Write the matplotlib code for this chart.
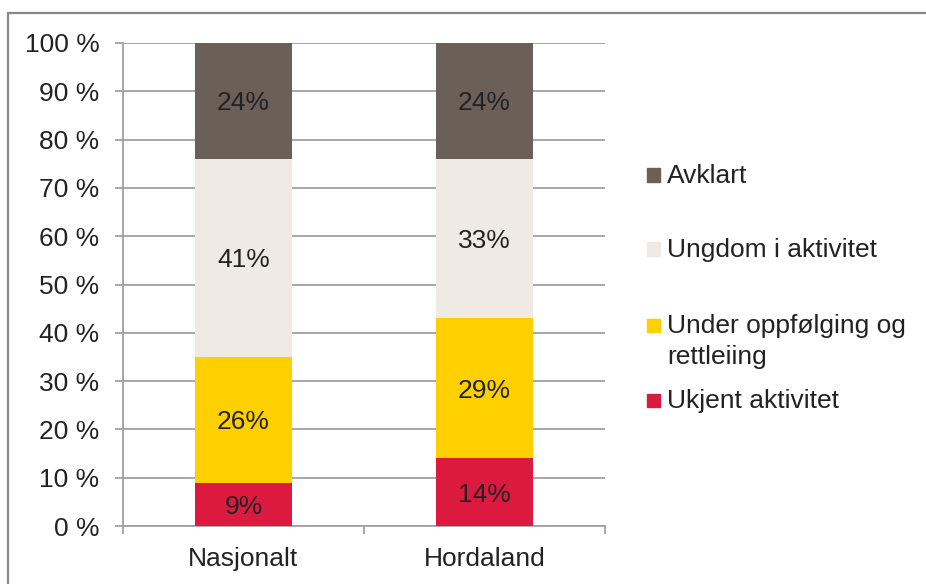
import matplotlib.pyplot as plt
from matplotlib.patches import Rectangle

plt.rcParams['font.family'] = ['Liberation Sans', 'DejaVu Sans']

categories = ['Nasjonalt', 'Hordaland']
series = ['Ukjent aktivitet', 'Under oppfølging og\nrettleiing', 'Ungdom i aktivitet', 'Avklart']
values = [
    [9, 14],   # Ukjent aktivitet
    [26, 29],  # Under oppfølging og rettleiing
    [41, 33],  # Ungdom i aktivitet
    [24, 24],  # Avklart
]
colors = ['#DC1A40', '#FFD000', '#EFEBE4', '#6B6058']
yticks = [0, 10, 20, 30, 40, 50, 60, 70, 80, 90, 100]

W, H = 926, 584
fs = 19
fig = plt.figure(figsize=(W / 100, H / 100), dpi=100)
ax = fig.add_axes([123 / W, (H - 526) / H, (605 - 123) / W, (526 - 43) / H])

grid_c = '#A0A0A0'
x = list(range(len(categories)))
bottom = [0] * len(categories)
for vals, col in zip(values, colors):
    ax.bar(x, vals, width=0.4, bottom=bottom, color=col, zorder=3)
    for xi, v, b in zip(x, vals, bottom):
        ax.text(xi, b + v / 2, f'{v}%', ha='center', va='center_baseline',
                fontsize=fs, color='#222222', zorder=4)
    bottom = [b + v for b, v in zip(bottom, vals)]

ax.set_xlim(-0.5, 1.5)
ax.set_ylim(0, 100)
ax.set_yticks(yticks)
ax.set_yticklabels([f'{t} %' for t in yticks])
ax.set_xticks(x)
ax.set_xticklabels(categories)
ax.set_xticks([-0.5, 0.5, 1.5], minor=True)
ax.tick_params(axis='x', which='major', length=0, pad=15, labelsize=fs, labelcolor='#222222')
ax.tick_params(axis='x', which='minor', length=6, color=grid_c, width=1.3)
ax.tick_params(axis='y', length=6, color=grid_c, width=1.3, pad=11,
               labelsize=fs, labelcolor='#222222')
ax.yaxis.grid(True, color=grid_c, linewidth=1.3, zorder=0)
for s in ['top', 'right']:
    ax.spines[s].set_visible(False)
for s in ['left', 'bottom']:
    ax.spines[s].set_color(grid_c)
    ax.spines[s].set_linewidth(1.3)

# legend, placed by hand like the Excel original
leg_y = [400, 325, 249, 175]
for lab, col, yy in zip(series, colors, leg_y):
    fig.patches.append(Rectangle((647 / W, (H - yy - 6.5) / H), 13 / W, 13 / H,
                                 transform=fig.transFigure, color=col))
    fig.text(667 / W, (H - yy + 11) / H, lab, ha='left', va='top',
             fontsize=fs, color='#222222', linespacing=1.35)

# outer frame (only left and top visible in the crop)
fig.patches.append(Rectangle((7.5 / W, -0.1), 1.2, (H - 13.5) / H + 0.1,
                             transform=fig.transFigure, fill=False,
                             edgecolor='#888888', linewidth=1.6))

fig.savefig('out.png', dpi=100)
